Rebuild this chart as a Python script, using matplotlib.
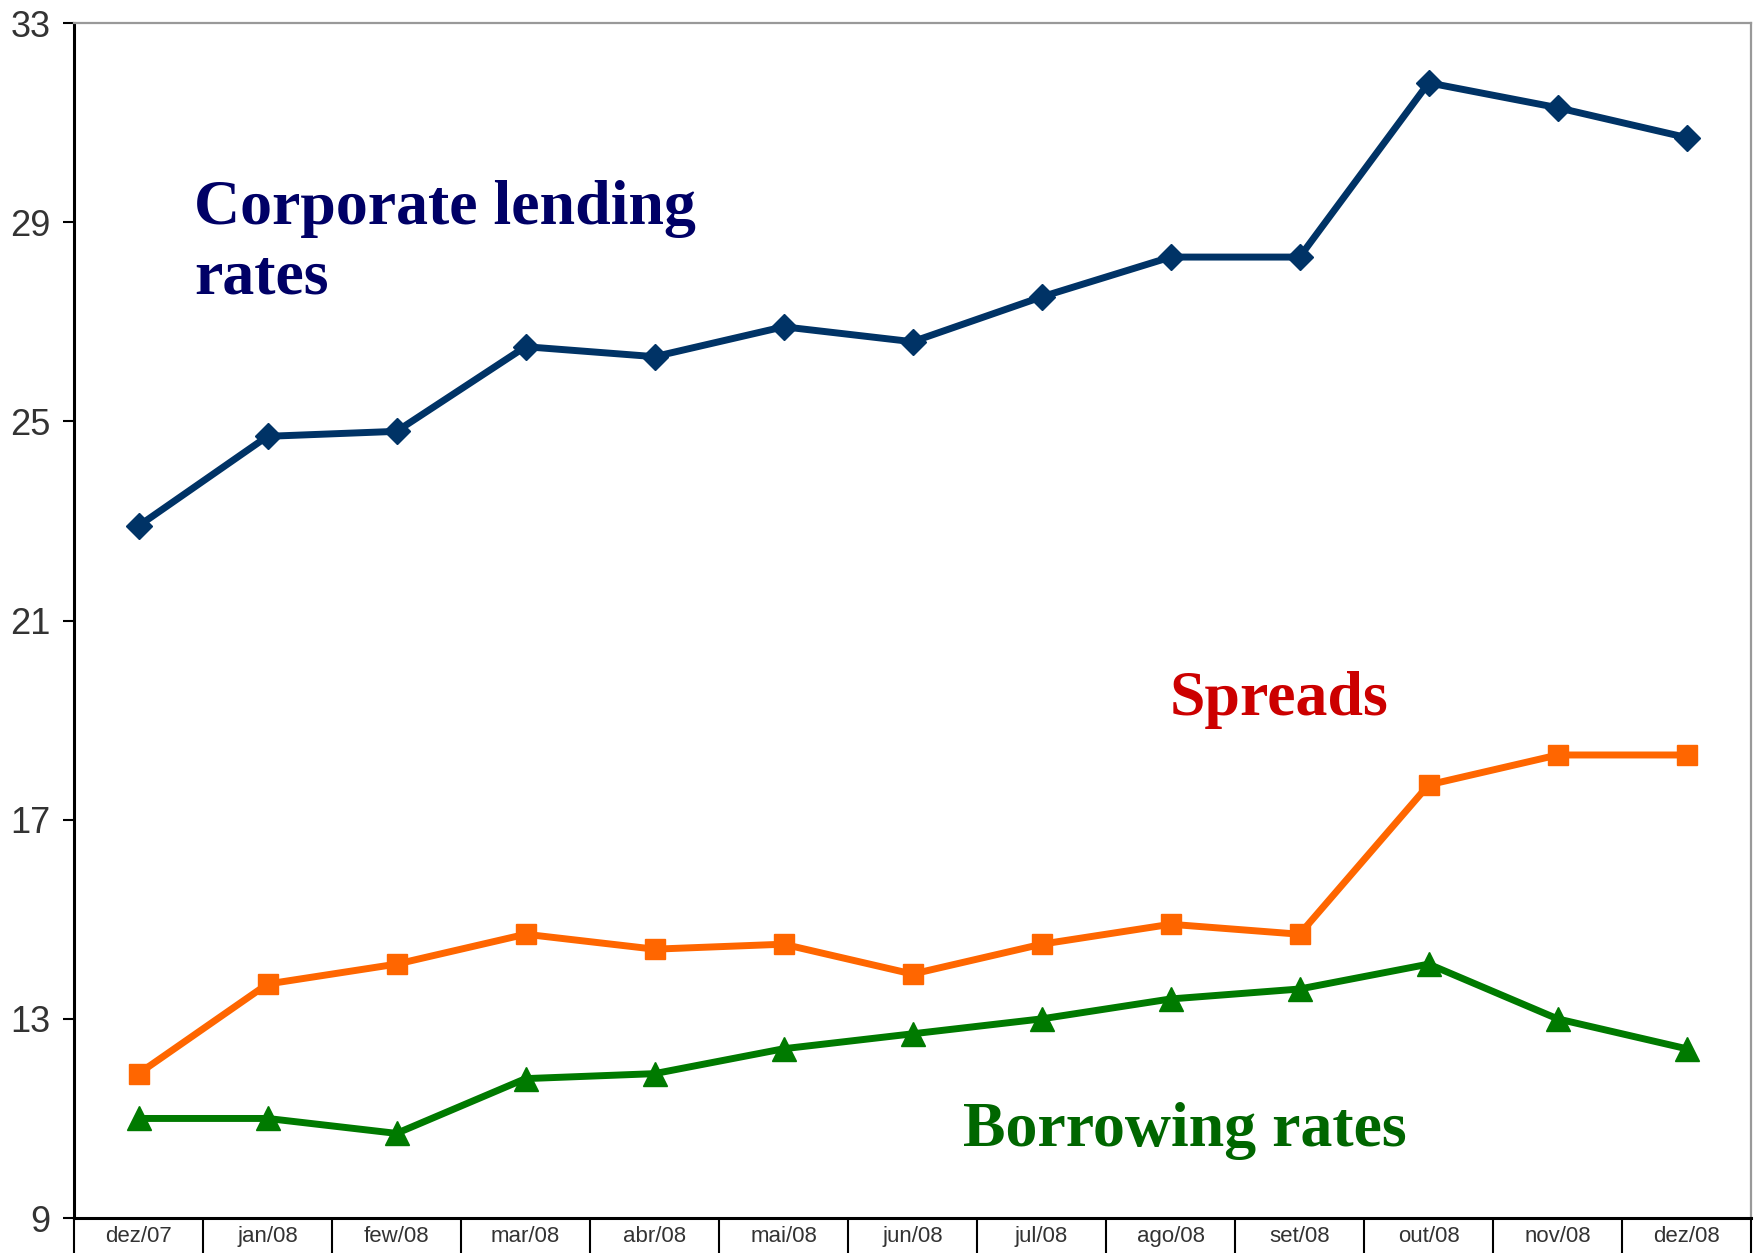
import matplotlib
matplotlib.use("Agg")
import matplotlib.pyplot as plt
import numpy as np

# Monthly series, dez/07 - dez/08 (% p.a.)
months = ["dez/07", "jan/08", "few/08", "mar/08", "abr/08", "mai/08", "jun/08",
          "jul/08", "ago/08", "set/08", "out/08", "nov/08", "dez/08"]
lending = [22.9, 24.7, 24.8, 26.5, 26.3, 26.9, 26.6, 27.5, 28.3, 28.3, 31.8, 31.3, 30.7]
spreads = [11.9, 13.7, 14.1, 14.7, 14.4, 14.5, 13.9, 14.5, 14.9, 14.7, 17.7, 18.3, 18.3]
borrowing = [11.0, 11.0, 10.7, 11.8, 11.9, 12.4, 12.7, 13.0, 13.4, 13.6, 14.1, 13.0, 12.4]
yticks = [9, 13, 17, 21, 25, 29, 33]

serif = ["Liberation Serif", "DejaVu Serif"]
sans = ["Liberation Sans", "DejaVu Sans"]

fig = plt.figure(figsize=(17.58, 12.53), dpi=100)
ax = fig.add_axes([0.0421, 0.0279, 0.9540, 0.9537])

x = np.arange(len(months))
ax.plot(x, lending, color="#003366", lw=5, marker="D", ms=13, zorder=3)
ax.plot(x, spreads, color="#FF6600", lw=5, marker="s", ms=15, zorder=3)
ax.plot(x, borrowing, color="#007A00", lw=5, marker="^", ms=17, zorder=3)

ax.set_xlim(-0.5, len(months) - 0.5)
ax.set_ylim(yticks[0], yticks[-1])

# y axis
ax.set_yticks(yticks)
ax.set_yticklabels([str(v) for v in yticks], fontsize=26, family=sans, color="#333333")
ax.tick_params(axis="y", length=8, width=1.5, pad=9, color="black")

# x axis: cell boundaries drawn as long ticks, month labels centred in each cell
ax.set_xticks(np.arange(-0.5, len(months), 1.0))
ax.set_xticklabels([])
ax.tick_params(axis="x", which="major", length=26, width=1.5, color="black")
ax.set_xticks(x, minor=True)
ax.set_xticklabels(months, minor=True, fontsize=16, family=sans, color="#333333")
ax.tick_params(axis="x", which="minor", length=0, pad=6)

for side in ("left", "bottom"):
    ax.spines[side].set_color("black")
    ax.spines[side].set_linewidth(2.2)
for side in ("top", "right"):
    ax.spines[side].set_color("#999999")
    ax.spines[side].set_linewidth(1.6)

# series captions
ax.text(0.43, 27.56, "Corporate lending\nrates", color="#000066", fontsize=46,
        fontweight="bold", family=serif, ha="left", va="baseline", linespacing=1.28)
ax.text(7.99, 19.10, "Spreads", color="#CC0000", fontsize=46,
        fontweight="bold", family=serif, ha="left", va="baseline")
ax.text(6.39, 10.45, "Borrowing rates", color="#006600", fontsize=46,
        fontweight="bold", family=serif, ha="left", va="baseline")

fig.savefig("out.png", dpi=100)
